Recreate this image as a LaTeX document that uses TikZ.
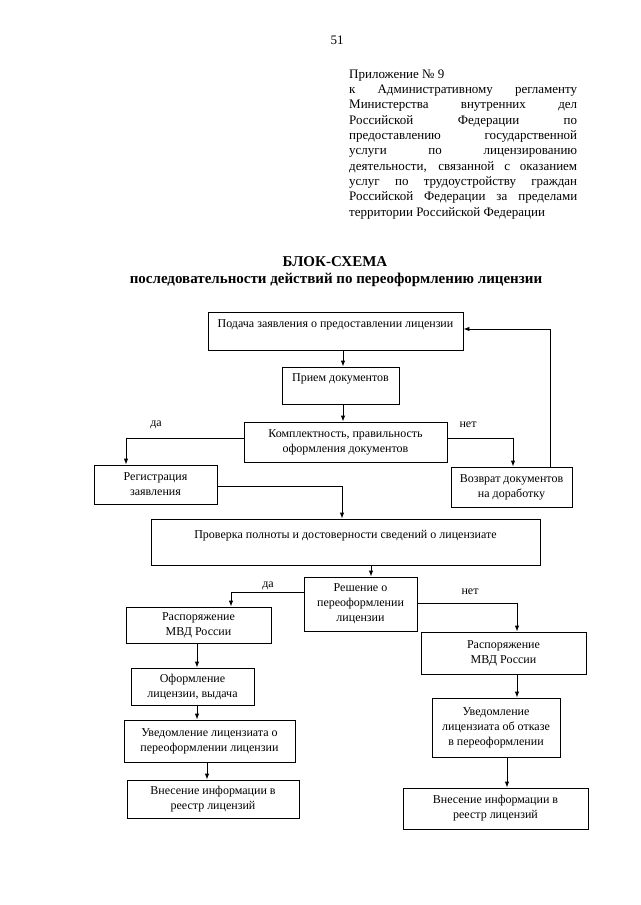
\documentclass[tikz,border=0pt]{standalone}
\usepackage{fontspec}
\setmainfont{Liberation Serif}
\usetikzlibrary{arrows.meta}
\begin{document}
\begin{tikzpicture}[x=1pt,y=-1pt,
  box/.style={draw, line width=0.9pt, inner sep=0pt, align=center, font=\fontsize{12}{15}\selectfont},
  arr/.style={line width=0.9pt, -{Latex[length=6pt,width=4.5pt]}},
  lbl/.style={font=\fontsize{12}{15}\selectfont, inner sep=0pt},
  hdr/.style={font=\fontsize{13}{15.3}\selectfont, inner sep=0pt},
  ttl/.style={font=\bfseries\fontsize{15}{17}\selectfont, inner sep=0pt}]
\useasboundingbox[fill=white] (0,0) rectangle (640,905);

\node[hdr] (pg) at (337,40) {51};
\node[hdr, anchor=north west, align=left] (app) at (349,69.5) {%
Приложение № 9\\
\makebox[228pt][s]{к Административному регламенту}\\
\makebox[228pt][s]{Министерства внутренних дел}\\
\makebox[228pt][s]{Российской Федерации по}\\
\makebox[228pt][s]{предоставлению государственной}\\
\makebox[228pt][s]{услуги по лицензированию}\\
\makebox[228pt][s]{деятельности, связанной с оказанием}\\
\makebox[228pt][s]{услуг по трудоустройству граждан}\\
\makebox[228pt][s]{Российской Федерации за пределами}\\
территории Российской Федерации};

\node[ttl] (t1) at (335,262) {БЛОК-СХЕМА};
\node[ttl] (t2) at (336,280) {последовательности действий по переоформлению лицензии};

\node[box, minimum width=255, minimum height=38] (b1) at (335.5,331) {Подача заявления о предоставлении лицензии\\\mbox{}};
\node[box, minimum width=117, minimum height=37] (b2) at (340.5,385.5) {Прием документов\\\mbox{}};
\node[box, minimum width=203, minimum height=40] (b3) at (345.5,442) {Комплектность, правильность\\оформления документов};
\node[box, minimum width=123, minimum height=39] (b4) at (155.5,484.5) {Регистрация\\заявления};
\node[box, minimum width=121, minimum height=40] (b5) at (511.5,487) {Возврат документов\\на доработку};
\node[box, minimum width=389, minimum height=46] (b6) at (345.5,542) {Проверка полноты и достоверности сведений о лицензиате\\\mbox{}};
\node[box, minimum width=113, minimum height=54] (b7) at (360.5,604) {Решение о\\переоформлении\\лицензии};
\node[box, minimum width=145, minimum height=36] (b8) at (198.5,625) {Распоряжение\\МВД России};
\node[box, minimum width=123, minimum height=37] (b9) at (192.5,686.5) {Оформление\\лицензии, выдача};
\node[box, minimum width=171, minimum height=42] (b10) at (209.5,741) {Уведомление лицензиата о\\переоформлении лицензии};
\node[box, minimum width=172, minimum height=38] (b11) at (213,799) {Внесение информации в\\реестр лицензий};
\node[box, minimum width=165, minimum height=42] (b12) at (503.5,653) {Распоряжение\\МВД России};
\node[box, minimum width=128, minimum height=59] (b13) at (496,727.5) {Уведомление\\лицензиата об отказе\\в переоформлении};
\node[box, minimum width=185, minimum height=41] (b14) at (495.5,808.5) {Внесение информации в\\реестр лицензий};

\node[lbl] (l1) at (156,425) {да};
\node[lbl] (l2) at (468,425) {нет};
\node[lbl] (l3) at (268,586) {да};
\node[lbl] (l4) at (470,592) {нет};

\draw[arr] (343,0 |- b1.south) -- (343,0 |- b2.north);
\draw[arr] (343,0 |- b2.south) -- (343,0 |- b3.north);
\draw[arr] (550,0 |- b5.north) -- (550,329) -- (b1.east |- 0,329);
\draw[arr] (b3.west |- 0,438) -- (126,438) -- (126,0 |- b4.north);
\draw[arr] (b3.east |- 0,438) -- (513,438) -- (513,0 |- b5.north);
\draw[arr] (b4.east |- 0,486) -- (342,486) -- (342,0 |- b6.north);
\draw[arr] (371,0 |- b6.south) -- (371,0 |- b7.north);
\draw[arr] (b7.west |- 0,592) -- (231,592) -- (231,0 |- b8.north);
\draw[arr] (b7.east |- 0,603) -- (517,603) -- (517,0 |- b12.north);
\draw[arr] (197,0 |- b8.south) -- (197,0 |- b9.north);
\draw[arr] (197,0 |- b9.south) -- (197,0 |- b10.north);
\draw[arr] (207,0 |- b10.south) -- (207,0 |- b11.north);
\draw[arr] (517,0 |- b12.south) -- (517,0 |- b13.north);
\draw[arr] (507,0 |- b13.south) -- (507,0 |- b14.north);
\end{tikzpicture}
\end{document}
